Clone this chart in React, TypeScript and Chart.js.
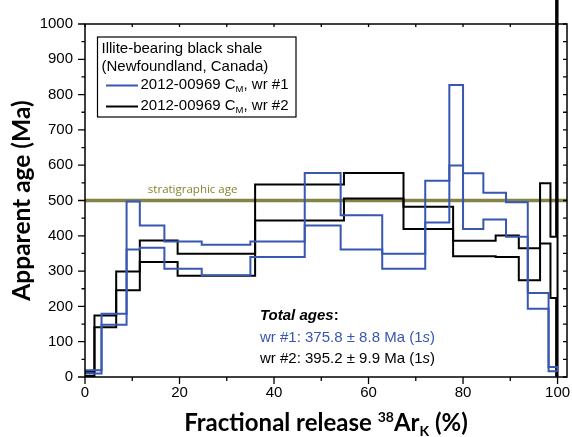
import React, { useEffect, useRef } from 'react';
import { Chart, registerables } from 'chart.js';

Chart.register(...registerables);

// ---------- data ----------
// wr #1 (blue): step boundaries (% 38ArK released) and 1-sigma low / high ages (Ma)
const wr1Bounds = [0, 3.5, 8.8, 11.6, 16.8, 24.7, 35.0, 46.5, 54.1, 62.9, 72.0, 77.1, 80.0, 84.3, 89.1, 93.7, 98.1, 100];
const wr1Low = [10, 148, 361, 366, 307, 288, 340, 429, 361, 307, 438, 599, 419, 446, 397, 193, 16];
const wr1High = [19, 179, 497, 429, 384, 375, 384, 578, 458, 349, 556, 827, 577, 522, 495, 238, 28];

// wr #2 (black)
const wr2Bounds = [0, 2.0, 6.6, 11.6, 19.6, 36.0, 54.8, 67.4, 77.9, 86.9, 91.8, 96.3, 98.5, 99.7, 100];
const wr2Low = [3, 141, 246, 326, 287, 443, 506, 419, 342, 340, 274, 378, 224, 0];
const wr2High = [15, 174, 299, 387, 349, 545, 578, 482, 386, 401, 365, 549, 397, 1100];

const stratigraphicAge = 500;

const xRange = [0, 102];
const yRange = [0, 1000];
const xMajorStep = 20;
const xMinorStep = 10;
const yMajorStep = 100;
const yMinorStep = 50;

const legendTitle = ['Illite-bearing black shale', '(Newfoundland, Canada)'];
const seriesNames = ['wr #1', 'wr #2'];
const sampleId = '2012-00969 C';
const totalAgesTitle = 'Total ages';
const totalAges = ['wr #1: 375.8 ± 8.8 Ma (1', 'wr #2: 395.2 ± 9.9 Ma (1'];

// ---------- styles ----------
const BLUE = '#3757b0';
const BLACK = '#000000';
const OLIVE = '#838348';
const OLIVE_TEXT = '#85852f';
const SANS = '"Liberation Sans", Arial, Helvetica, sans-serif';
const TITLE = 'Lato, "Liberation Sans", sans-serif';

type Pt = { x: number; y: number };

function upperLine(bounds: number[], hi: number[], lo: number[]): Pt[] {
  const pts = hi.map((v, i) => ({ x: bounds[i], y: v }));
  pts.push({ x: bounds[bounds.length - 1], y: lo[lo.length - 1] });
  return pts;
}
function lowerLine(bounds: number[], lo: number[]): Pt[] {
  const pts = lo.map((v, i) => ({ x: bounds[i], y: v }));
  pts.push({ x: bounds[bounds.length - 1], y: lo[lo.length - 1] });
  return pts;
}

type Part = { t: string; font: string; dy?: number };
function drawParts(ctx: CanvasRenderingContext2D, parts: Part[], x: number, y: number, align: 'left' | 'center') {
  let total = 0;
  const widths = parts.map((p) => {
    ctx.font = p.font;
    const w = ctx.measureText(p.t).width;
    total += w;
    return w;
  });
  let cx = align === 'center' ? x - total / 2 : x;
  ctx.textAlign = 'left';
  parts.forEach((p, i) => {
    ctx.font = p.font;
    ctx.fillText(p.t, cx, y + (p.dy || 0));
    cx += widths[i];
  });
}

const decorPlugin = {
  id: 'decor',
  afterDatasetsDraw(chart: any) {
    const { ctx, chartArea: ca, scales } = chart;
    const xs = scales.x;
    const ys = scales.y;
    ctx.save();

    // stratigraphic age label
    ctx.fillStyle = OLIVE_TEXT;
    ctx.font = `11.5px "Open Sans", sans-serif`;
    ctx.textAlign = 'left';
    ctx.textBaseline = 'alphabetic';
    ctx.fillText('stratigraphic age', xs.getPixelForValue(13.3), ys.getPixelForValue(stratigraphicAge) - 8);

    // frame
    ctx.strokeStyle = '#000';
    ctx.lineWidth = 1.5;
    ctx.strokeRect(ca.left, ca.top, ca.right - ca.left, ca.bottom - ca.top);

    // ticks
    ctx.lineWidth = 1.3;
    ctx.beginPath();
    for (let v = yRange[0]; v <= yRange[1]; v += yMinorStep) {
      const py = ys.getPixelForValue(v);
      const major = v % yMajorStep === 0;
      ctx.moveTo(ca.left - (major ? 7 : 3.5), py);
      ctx.lineTo(ca.left, py);
      ctx.moveTo(ca.right, py);
      ctx.lineTo(ca.right - 4, py);
    }
    for (let v = xRange[0]; v <= 100; v += xMinorStep) {
      const px = xs.getPixelForValue(v);
      const major = v % xMajorStep === 0;
      ctx.moveTo(px, ca.bottom);
      ctx.lineTo(px, ca.bottom + (major ? 7 : 4));
      ctx.moveTo(px, ca.top);
      ctx.lineTo(px, ca.top + 3);
    }
    ctx.stroke();

    // legend box
    const lx = 97.5, ly = 37, lw = 198.5, lh = 80;
    ctx.fillStyle = '#fff';
    ctx.fillRect(lx, ly, lw, lh);
    ctx.strokeStyle = '#000';
    ctx.lineWidth = 1.2;
    ctx.strokeRect(lx, ly, lw, lh);
    ctx.fillStyle = '#000';
    ctx.textBaseline = 'middle';
    ctx.font = `15px ${SANS}`;
    ctx.textAlign = 'left';
    ctx.fillText(legendTitle[0], 101.5, 48.5);
    ctx.fillText(legendTitle[1], 101.5, 67);
    const rows = [
      { y: 85.5, color: BLUE, name: seriesNames[0] },
      { y: 106.5, color: BLACK, name: seriesNames[1] },
    ];
    rows.forEach((r) => {
      ctx.strokeStyle = r.color;
      ctx.lineWidth = 2;
      ctx.beginPath();
      ctx.moveTo(106, r.y);
      ctx.lineTo(138, r.y);
      ctx.stroke();
      ctx.fillStyle = '#000';
      drawParts(
        ctx,
        [
          { t: sampleId, font: `15px ${SANS}` },
          { t: 'M', font: `9.5px ${SANS}`, dy: 4.5 },
          { t: ', ' + r.name, font: `15px ${SANS}` },
        ],
        140.5,
        r.y - 0.5,
        'left'
      );
    });

    // total ages
    ctx.fillStyle = '#000';
    drawParts(
      ctx,
      [
        { t: totalAgesTitle, font: `italic bold 15px ${SANS}` },
        { t: ':', font: `bold 15px ${SANS}` },
      ],
      260,
      316,
      'left'
    );
    ctx.fillStyle = BLUE;
    drawParts(
      ctx,
      [
        { t: totalAges[0], font: `15px ${SANS}` },
        { t: 's', font: `italic 15px ${SANS}` },
        { t: ')', font: `15px ${SANS}` },
      ],
      260,
      338,
      'left'
    );
    ctx.fillStyle = '#000';
    drawParts(
      ctx,
      [
        { t: totalAges[1], font: `15px ${SANS}` },
        { t: 's', font: `italic 15px ${SANS}` },
        { t: ')', font: `15px ${SANS}` },
      ],
      260,
      358.5,
      'left'
    );

    // x axis title with super/subscripts
    ctx.fillStyle = '#000';
    ctx.textBaseline = 'alphabetic';
    drawParts(
      ctx,
      [
        { t: 'Fractional release ', font: `bold 24px ${TITLE}` },
        { t: '38', font: `bold 14px ${TITLE}`, dy: -9 },
        { t: 'Ar', font: `bold 24px ${TITLE}` },
        { t: 'K', font: `bold 14px ${TITLE}`, dy: 5 },
        { t: ' (%)', font: `bold 24px ${TITLE}` },
      ],
      (ca.left + ca.right) / 2,
      431,
      'center'
    );

    ctx.restore();
  },
};

export default function App() {
  const ref = useRef<HTMLCanvasElement>(null);

  useEffect(() => {
    if (!ref.current) return;
    const chart = new Chart(ref.current, {
      type: 'line',
      data: {
        datasets: [
          {
            label: 'wr1-high',
            data: upperLine(wr1Bounds, wr1High, wr1Low),
            borderColor: BLUE,
            borderWidth: 2,
            stepped: 'before',
            pointRadius: 0,
            fill: false,
            order: 1,
          },
          {
            label: 'wr1-low',
            data: lowerLine(wr1Bounds, wr1Low),
            borderColor: BLUE,
            borderWidth: 2,
            stepped: 'before',
            pointRadius: 0,
            fill: false,
            order: 1,
          },
          {
            label: 'wr2-high',
            data: upperLine(wr2Bounds, wr2High, wr2Low),
            borderColor: BLACK,
            borderWidth: 2,
            stepped: 'before',
            pointRadius: 0,
            fill: false,
            order: 2,
            clip: false,
          },
          {
            label: 'wr2-low',
            data: lowerLine(wr2Bounds, wr2Low),
            borderColor: BLACK,
            borderWidth: 2,
            stepped: 'before',
            pointRadius: 0,
            fill: false,
            order: 2,
          },
          {
            label: 'stratigraphic age',
            data: [
              { x: xRange[0], y: stratigraphicAge },
              { x: xRange[1], y: stratigraphicAge },
            ],
            borderColor: OLIVE,
            borderWidth: 3.5,
            pointRadius: 0,
            fill: false,
            order: 3,
          },
        ],
      } as any,
      options: {
        animation: false,
        responsive: false,
        events: [],
        layout: { padding: { top: 24, right: 5, left: 0, bottom: 0 } },
        plugins: {
          legend: { display: false },
          tooltip: { enabled: false },
          title: { display: false },
        },
        scales: {
          x: {
            type: 'linear',
            min: xRange[0],
            max: xRange[1],
            grid: { display: false, drawTicks: false },
            border: { display: false },
            ticks: {
              stepSize: xMajorStep,
              includeBounds: false,
              autoSkip: false,
              maxRotation: 0,
              padding: 7,
              color: '#000',
              font: { family: SANS, size: 15 },
              callback: (v: any) => String(v),
            },
            afterFit: (s: any) => {
              s.height = 60;
              s.paddingLeft = 0;
              s.paddingRight = 0;
            },
          },
          y: {
            type: 'linear',
            min: yRange[0],
            max: yRange[1],
            grid: { display: false, drawTicks: false },
            border: { display: false },
            ticks: {
              stepSize: yMajorStep,
              includeBounds: false,
              autoSkip: false,
              padding: 12,
              color: '#000',
              font: { family: SANS, size: 15 },
              callback: (v: any) => String(v),
            },
            title: {
              display: true,
              text: 'Apparent age (Ma)',
              color: '#000',
              font: { family: TITLE, size: 24.5, weight: 'bold' },
              padding: { top: 7, bottom: 0 },
            },
            afterFit: (s: any) => {
              s.width = 85;
              s.paddingTop = 0;
              s.paddingBottom = 0;
            },
          },
        },
      } as any,
      plugins: [decorPlugin],
    });
    return () => chart.destroy();
  }, []);

  return (
    <div style={{ position: 'fixed', left: 0, top: 0, width: 572, height: 437, background: '#fff' }}>
      <canvas ref={ref} width={572} height={437} style={{ display: 'block' }} />
    </div>
  );
}
